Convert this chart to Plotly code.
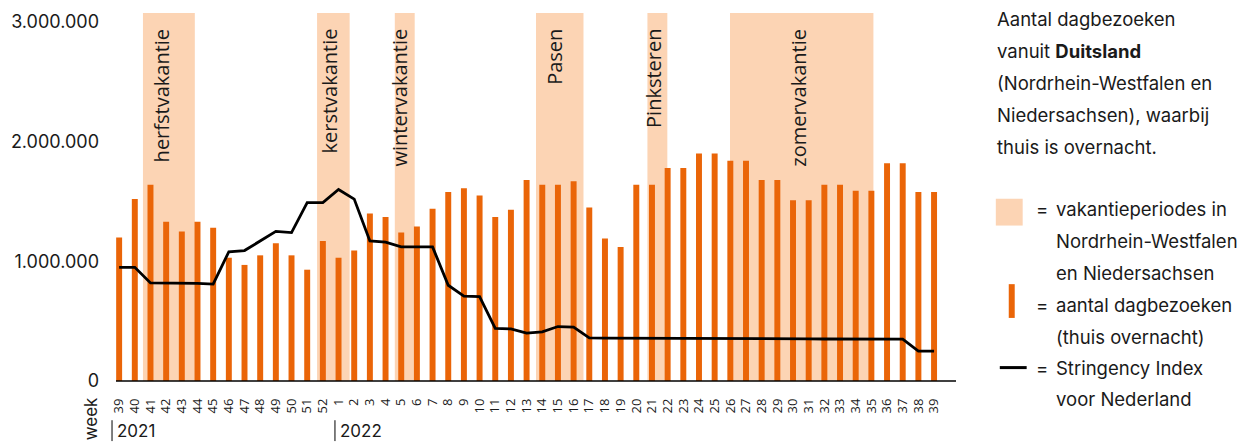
import plotly.graph_objects as go

# week labels: week 39 of 2021 up to week 39 of 2022
weeks = [str(w) for w in range(39, 53)] + [str(w) for w in range(1, 40)]

# number of day visits (thuis overnacht)
day_visits = [
    1200000, 1520000, 1640000, 1330000, 1250000, 1330000, 1280000, 1030000,
    970000, 1050000, 1150000, 1050000, 930000, 1170000,
    1030000, 1090000, 1400000, 1370000, 1240000, 1290000, 1440000, 1580000,
    1610000, 1550000, 1370000, 1430000, 1680000, 1640000, 1640000, 1670000,
    1450000, 1190000, 1120000, 1640000, 1640000, 1780000, 1780000, 1900000,
    1900000, 1840000, 1840000, 1680000, 1680000, 1510000, 1510000, 1640000,
    1640000, 1590000, 1590000, 1820000, 1820000, 1580000, 1580000,
]

# Stringency Index NL, drawn on the same axis (scaled as in the picture)
stringency = [
    950000, 950000, 820000, 820000, 818000, 815000, 810000, 1080000,
    1090000, 1170000, 1250000, 1240000, 1490000, 1490000,
    1600000, 1520000, 1170000, 1160000, 1120000, 1120000, 1120000, 800000,
    710000, 705000, 440000, 435000, 400000, 410000, 455000, 450000,
    360000, 358000, 358000, 357000, 357000, 356000, 356000, 355000,
    355000, 354000, 354000, 353000, 353000, 352000, 352000, 351000,
    351000, 350000, 350000, 350000, 350000, 250000, 250000,
]

# holiday periods (in week-index units along the x axis)
vac_labels = ["herfstvakantie", "kerstvakantie", "wintervakantie",
              "Pasen", "Pinksteren", "zomervakantie"]
vac_start = [1.52, 12.63, 17.59, 26.6, 33.71, 38.98]
vac_end = [4.83, 14.71, 18.86, 29.63, 34.98, 48.13]
vac_label_pos = [2.67, 13.4, 17.9, 27.81, 34.1, 43.37]

ORANGE = "#EA6508"
SHADE = "#FCD4B4"
TXT = "#1a1a1a"
GEO = "Inter"
OPEN = "Open Sans"

W, H = 1256, 447
L, R, T, B = 112, 956, 11, 381.5

def px(x):
    return (x - L) / (R - L)

def py(y):
    return (B - y) / (B - T)

xs = list(range(len(weeks)))

fig = go.Figure()

fig.add_trace(go.Bar(x=xs, y=day_visits, marker_color=ORANGE,
                     marker_line_width=0, width=0.38))
fig.add_trace(go.Scatter(x=xs, y=stringency, mode="lines",
                         line=dict(color="black", width=2.8)))

shapes = []
annotations = []
for lab, s, e, lx in zip(vac_labels, vac_start, vac_end, vac_label_pos):
    shapes.append(dict(type="rect", xref="x", yref="paper", x0=s, x1=e,
                       y0=0, y1=1, fillcolor=SHADE, line_width=0, layer="below"))
    annotations.append(dict(x=lx, xref="x", y=py(25), yref="paper",
                            text=lab, textangle=-90, showarrow=False,
                            xanchor="center", yanchor="top",
                            font=dict(family=OPEN, size=20, color=TXT)))

# x-axis base line
shapes.append(dict(type="line", xref="paper", yref="paper", x0=0, x1=1,
                   y0=0, y1=0, line=dict(color="black", width=1.5)))

# week / year labels
annotations.append(dict(x=px(87), y=py(420), xref="paper", yref="paper",
                        text="week", textangle=-90, showarrow=False,
                        xanchor="center", yanchor="middle",
                        font=dict(family=GEO, size=17, color=TXT)))
for x_bar, year in [(108, "2021"), (332, "2022")]:
    shapes.append(dict(type="line", xref="paper", yref="paper",
                       x0=px(x_bar), x1=px(x_bar), y0=py(421), y1=py(442),
                       line=dict(color="black", width=1)))
    annotations.append(dict(x=px(x_bar + 3), y=py(432), xref="paper", yref="paper",
                            text=year, showarrow=False, xanchor="left",
                            yanchor="middle",
                            font=dict(family=GEO, size=17, color=TXT)))

# side text
side_lines = ["Aantal dagbezoeken", "vanuit <b>Duitsland</b>",
              "(Nordrhein-Westfalen en", "Niedersachsen), waarbij",
              "thuis is overnacht."]
for i, t in enumerate(side_lines):
    annotations.append(dict(x=px(995), y=py(17 + 32.2 * i), xref="paper", yref="paper",
                            text=t, showarrow=False, xanchor="left", yanchor="middle",
                            font=dict(family=GEO, size=18.5, color=TXT)))

legend_lines = [(208, "vakantieperiodes in"), (241, "Nordrhein-Westfalen"),
                (273, "en Niedersachsen"), (305, "aantal dagbezoeken"),
                (337, "(thuis overnacht)"), (368, "Stringency Index"),
                (400, "voor Nederland")]
for y, t in legend_lines:
    annotations.append(dict(x=px(1054), y=py(y), xref="paper", yref="paper",
                            text=t, showarrow=False, xanchor="left", yanchor="middle",
                            font=dict(family=GEO, size=18.5, color=TXT)))
for y in [208, 305, 368]:
    annotations.append(dict(x=px(1034), y=py(y), xref="paper", yref="paper",
                            text="=", showarrow=False, xanchor="left", yanchor="middle",
                            font=dict(family=GEO, size=18.5, color=TXT)))

shapes.append(dict(type="rect", xref="paper", yref="paper", x0=px(996), x1=px(1023),
                   y0=py(225), y1=py(198), fillcolor=SHADE, line_width=0))
shapes.append(dict(type="rect", xref="paper", yref="paper", x0=px(1009), x1=px(1015),
                   y0=py(318), y1=py(284), fillcolor=ORANGE, line_width=0))
shapes.append(dict(type="line", xref="paper", yref="paper", x0=px(1000), x1=px(1027),
                   y0=py(368), y1=py(368), line=dict(color="black", width=3)))

fig.update_layout(
    width=W, height=H,
    margin=dict(l=L, r=W - R, t=T, b=H - B),
    paper_bgcolor="white", plot_bgcolor="white",
    showlegend=False,
    bargap=0.62,
    separators=",.",
    shapes=shapes,
    annotations=annotations,
    xaxis=dict(range=[-0.2, 53.4], tickmode="array", tickvals=xs, ticktext=weeks,
               tickangle=-90, showgrid=False, zeroline=False, showline=False,
               ticks="", ticklabelstandoff=14,
               tickfont=dict(family=OPEN, size=13, color=TXT)),
    yaxis=dict(range=[0, 3075000], tickmode="array",
               tickvals=[0, 1000000, 2000000, 3000000],
               ticktext=["0", "1.000.000", "2.000.000", "3.000.000"],
               showgrid=False, zeroline=False, showline=False, ticks="",
               ticklabelstandoff=16,
               tickfont=dict(family=GEO, size=18, color=TXT)),
)

# page body has a default 8px margin; remove it so the figure sits at 0,0
fig.write_html("out.html", config={"displayModeBar": False},
               post_script="document.body.style.margin='0';")
